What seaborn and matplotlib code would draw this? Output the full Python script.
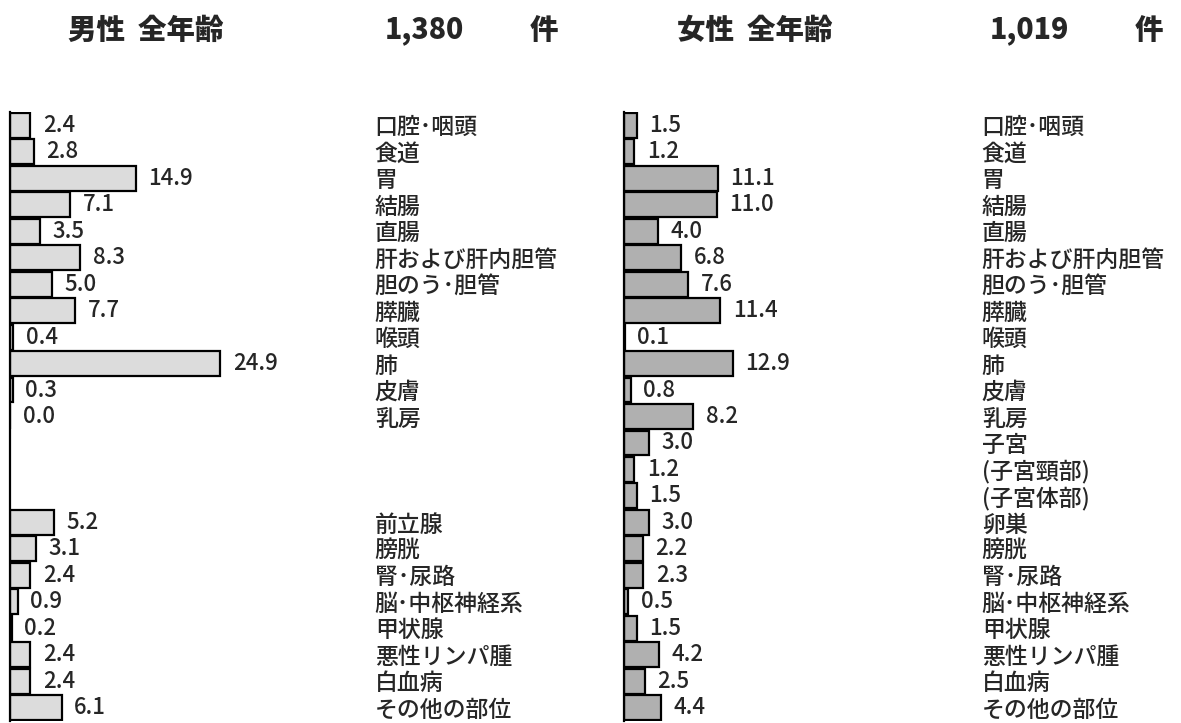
"""
Cancer site share chart (male / female, all ages), percentages by site.
"""

import matplotlib
matplotlib.use("Agg")
import matplotlib.pyplot as plt
import pandas as pd
import seaborn as sns

MALE_SITES = ['口腔･咽頭', '食道', '胃', '結腸', '直腸', '肝および肝内胆管',
              '胆のう･胆管', '膵臓', '喉頭', '肺', '皮膚', '乳房',
              '前立腺', '膀胱', '腎･尿路', '脳･中枢神経系', '甲状腺',
              '悪性リンパ腫', '白血病', 'その他の部位']
MALE_PCT = [2.4, 2.8, 14.9, 7.1, 3.5, 8.3, 5.0, 7.7, 0.4, 24.9, 0.3, 0.0,
            5.2, 3.1, 2.4, 0.9, 0.2, 2.4, 2.4, 6.1]

FEMALE_SITES = ['口腔･咽頭', '食道', '胃', '結腸', '直腸', '肝および肝内胆管',
                '胆のう･胆管', '膵臓', '喉頭', '肺', '皮膚', '乳房',
                '子宮', '(子宮頸部)', '(子宮体部)', '卵巣',
                '膀胱', '腎･尿路', '脳･中枢神経系', '甲状腺',
                '悪性リンパ腫', '白血病', 'その他の部位']
FEMALE_PCT = [1.5, 1.2, 11.1, 11.0, 4.0, 6.8, 7.6, 11.4, 0.1, 12.9, 0.8, 8.2,
              3.0, 1.2, 1.5, 3.0, 2.2, 2.3, 0.5, 1.5, 4.2, 2.5, 4.4]

MALE_TITLE = '男性  全年齢'
FEMALE_TITLE = '女性  全年齢'
MALE_TOTAL = '1,380'
FEMALE_TOTAL = '1,019'
UNIT = '件'

# empty slots in the male panel where the female-only sites sit
BLANK_ROWS = [' ', '  ', '   ']

COLORS = {'male': '#dcdcdc', 'female': '#b0b0b0'}

W, H = 1181, 723
PX_PER_PCT = 8.45


def setup_style():
    sns.set_style("white")
    plt.rcParams['font.family'] = ['Noto Sans CJK JP', 'DejaVu Sans']


def draw_panel(fig, left_px, right_px, sites, values, order, color):
    top_px, bottom_px = 112, 721
    ax = fig.add_axes([left_px / W, (H - bottom_px) / H,
                       (right_px - left_px) / W, (bottom_px - top_px) / H])
    df = pd.DataFrame({'site': sites, 'pct': values})
    sns.barplot(data=df, x='pct', y='site', order=order, orient='h',
                color=color, saturation=1, edgecolor='black', linewidth=1.6,
                width=0.94, ax=ax)
    ax.bar_label(ax.containers[0], fmt='%.1f', padding=9, fontsize=16,
                 fontweight='medium')

    ax.set_xlim(0, (right_px - left_px) / PX_PER_PCT)
    ax.set_ylim(len(order) - 0.5, -0.5)
    ax.set_xticks([])
    ax.set_xlabel('')
    ax.set_ylabel('')
    ax.yaxis.tick_right()
    ax.tick_params(axis='y', length=0, pad=7, labelsize=16.5)
    for lbl in ax.get_yticklabels():
        lbl.set_fontweight('medium')
    for side in ['top', 'right', 'bottom']:
        ax.spines[side].set_visible(False)
    ax.spines['left'].set_color('black')
    ax.spines['left'].set_linewidth(1.6)
    return ax


def draw_header(fig, x_title, x_total, x_unit, title, total):
    y = 1 - 30 / H
    kw = dict(fontsize=20.5, fontweight='heavy', va='center', ha='left')
    fig.text(x_title / W, y, title, **kw)
    fig.text(x_total / W, y, total, **kw)
    fig.text(x_unit / W, y, UNIT, **kw)


def main():
    setup_style()
    fig = plt.figure(figsize=(W / 100, H / 100), dpi=100)

    male_order = MALE_SITES[:12] + BLANK_ROWS + MALE_SITES[12:]
    draw_panel(fig, 10, 365, MALE_SITES, MALE_PCT, male_order, COLORS['male'])
    draw_panel(fig, 624, 972, FEMALE_SITES, FEMALE_PCT, FEMALE_SITES,
               COLORS['female'])

    draw_header(fig, 68, 385, 530, MALE_TITLE, MALE_TOTAL)
    draw_header(fig, 677, 990, 1135, FEMALE_TITLE, FEMALE_TOTAL)

    fig.savefig('out.png', dpi=100, facecolor='white')


if __name__ == '__main__':
    main()
